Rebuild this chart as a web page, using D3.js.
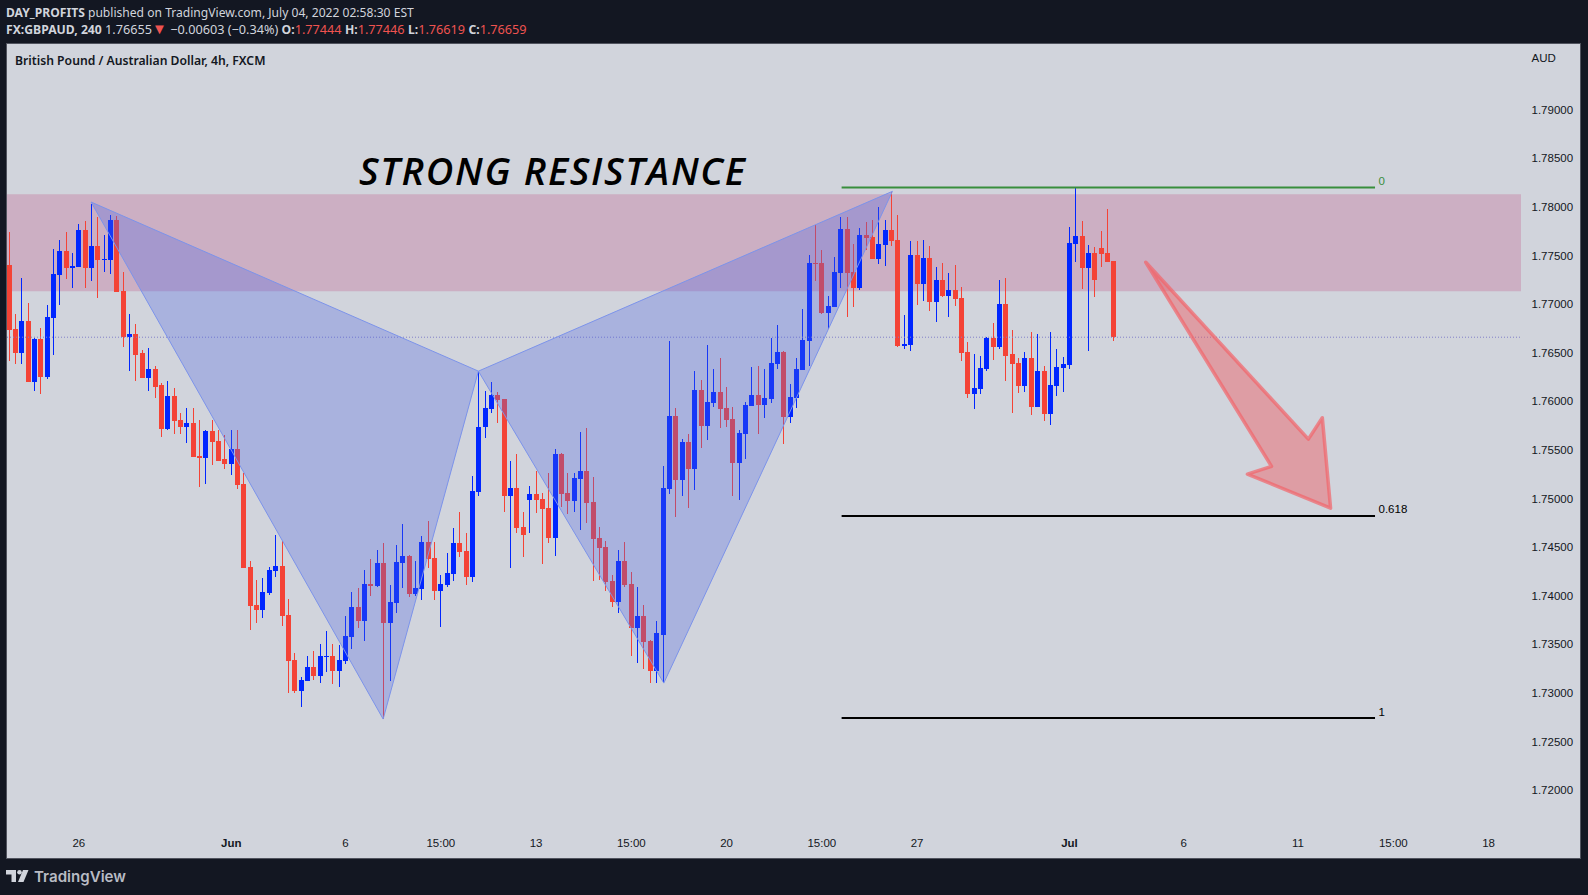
<!DOCTYPE html>
<html>
<head>
<meta charset="utf-8">
<script src="https://cdn.jsdelivr.net/npm/d3@7"></script>
<style>
    html, body { margin: 0; padding: 0; background: #131722; }
    svg { display: block; }
    text { font-family: "Noto Sans", sans-serif; }
    .axis text { font-family: "Liberation Sans", sans-serif; font-size: 11.5px; fill: #131722; }
</style>
</head>
<body>
<svg id="chart" width="1588" height="895"></svg>
<script>
// candles, 4h GBPAUD
const opens = [1.7740,1.7674,1.7650,1.7683,1.7620,1.7664,1.7625,1.7686,1.7730,1.7755,
    1.7737,1.7738,1.7776,1.7737,1.7760,1.7745,1.7745,1.7786,1.7713,1.7666,
    1.7669,1.7650,1.7624,1.7633,1.7617,1.7571,1.7605,1.7581,1.7573,1.7578,
    1.7544,1.7542,1.7569,1.7559,1.7541,1.7535,1.7551,1.7515,1.7429,1.7390,
    1.7385,1.7403,1.7425,1.7431,1.7380,1.7334,1.7302,1.7312,1.7327,1.7317,
    1.7337,1.7338,1.7322,1.7333,1.7357,1.7388,1.7374,1.7412,1.7410,1.7434,
    1.7372,1.7392,1.7434,1.7441,1.7402,1.7407,1.7455,1.7439,1.7405,1.7411,
    1.7422,1.7454,1.7446,1.7419,1.7507,1.7573,1.7592,1.7606,1.7602,1.7502,
    1.7511,1.7471,1.7498,1.7505,1.7499,1.7490,1.7459,1.7546,1.7506,1.7497,
    1.7520,1.7528,1.7496,1.7459,1.7450,1.7415,1.7393,1.7436,1.7412,1.7367,
    1.7379,1.7353,1.7322,1.7360,1.7510,1.7585,1.7519,1.7558,1.7530,1.7612,
    1.7575,1.7598,1.7610,1.7593,1.7582,1.7536,1.7566,1.7595,1.7606,1.7596,
    1.7602,1.7638,1.7651,1.7584,1.7603,1.7632,1.7662,1.7742,1.7742,1.7691,
    1.7697,1.7732,1.7777,1.7733,1.7717,1.7771,1.7769,1.7746,1.7761,1.7776,
    1.7766,1.7657,1.7658,1.7750,1.7721,1.7747,1.7702,1.7725,1.7708,1.7714,
    1.7706,1.7651,1.7607,1.7613,1.7633,1.7665,1.7656,1.7700,1.7649,1.7639,
    1.7616,1.7645,1.7594,1.7631,1.7587,1.7616,1.7634,1.7637,1.7762,1.7770,
    1.7737,1.7753,1.7758,1.7753,1.77444];
const highs = [1.7774,1.7690,1.7727,1.7701,1.7665,1.7675,1.7699,1.7757,1.7766,1.7774,
    1.7753,1.7782,1.7785,1.7803,1.7790,1.7771,1.7792,1.7791,1.7733,1.7690,
    1.7679,1.7653,1.7655,1.7636,1.7619,1.7621,1.7614,1.7588,1.7593,1.7593,
    1.7581,1.7570,1.7581,1.7570,1.7565,1.7570,1.7570,1.7526,1.7436,1.7416,
    1.7418,1.7429,1.7462,1.7456,1.7397,1.7341,1.7316,1.7338,1.7343,1.7350,
    1.7364,1.7350,1.7349,1.7379,1.7404,1.7408,1.7426,1.7438,1.7447,1.7454,
    1.7411,1.7452,1.7474,1.7442,1.7436,1.7461,1.7477,1.7455,1.7421,1.7444,
    1.7470,1.7486,1.7464,1.7523,1.7631,1.7611,1.7620,1.7610,1.7602,1.7539,
    1.7546,1.7486,1.7513,1.7528,1.7506,1.7526,1.7551,1.7547,1.7526,1.7526,
    1.7568,1.7572,1.7522,1.7471,1.7456,1.7421,1.7447,1.7455,1.7424,1.7409,
    1.7390,1.7354,1.7374,1.7533,1.7662,1.7593,1.7561,1.7566,1.7631,1.7622,
    1.7658,1.7633,1.7644,1.7615,1.7594,1.7570,1.7599,1.7635,1.7636,1.7633,
    1.7665,1.7678,1.7652,1.7618,1.7645,1.7695,1.7750,1.7781,1.7756,1.7708,
    1.7748,1.7790,1.7790,1.7762,1.7778,1.7784,1.7786,1.7800,1.7786,1.7815,
    1.7792,1.7689,1.7765,1.7765,1.7766,1.7760,1.7738,1.7742,1.7732,1.7740,
    1.7718,1.7661,1.7649,1.7647,1.7666,1.7681,1.7725,1.7727,1.7673,1.7645,
    1.7651,1.7671,1.7669,1.7636,1.7671,1.7654,1.7646,1.7779,1.7819,1.7785,
    1.7761,1.7759,1.7775,1.7798,1.77446];
const lows = [1.7641,1.7638,1.7638,1.7620,1.7611,1.7607,1.7623,1.7648,1.7699,1.7726,
    1.7717,1.7738,1.7717,1.7724,1.7706,1.7733,1.7731,1.7712,1.7656,1.7631,
    1.7621,1.7624,1.7611,1.7603,1.7563,1.7570,1.7566,1.7566,1.7557,1.7543,
    1.7512,1.7515,1.7534,1.7539,1.7530,1.7524,1.7510,1.7428,1.7365,1.7372,
    1.7377,1.7401,1.7419,1.7369,1.7300,1.7300,1.7285,1.7312,1.7313,1.7310,
    1.7321,1.7309,1.7306,1.7330,1.7345,1.7367,1.7353,1.7400,1.7409,1.7273,
    1.7312,1.7382,1.7408,1.7399,1.7400,1.7396,1.7428,1.7396,1.7368,1.7409,
    1.7415,1.7440,1.7411,1.7414,1.7503,1.7562,1.7588,1.7578,1.7486,1.7428,
    1.7464,1.7440,1.7464,1.7485,1.7433,1.7454,1.7441,1.7491,1.7484,1.7486,
    1.7468,1.7475,1.7415,1.7416,1.7405,1.7388,1.7382,1.7409,1.7338,1.7331,
    1.7325,1.7310,1.7310,1.7310,1.7505,1.7481,1.7503,1.7490,1.7509,1.7552,
    1.7560,1.7594,1.7572,1.7574,1.7503,1.7498,1.7541,1.7595,1.7566,1.7583,
    1.7598,1.7633,1.7556,1.7578,1.7593,1.7632,1.7636,1.7724,1.7690,1.7674,
    1.7697,1.7717,1.7687,1.7697,1.7714,1.7756,1.7746,1.7741,1.7739,1.7760,
    1.7656,1.7654,1.7652,1.7699,1.7703,1.7693,1.7682,1.7707,1.7687,1.7698,
    1.7641,1.7603,1.7592,1.7607,1.7631,1.7642,1.7654,1.7621,1.7588,1.7608,
    1.7610,1.7586,1.7594,1.7580,1.7576,1.7605,1.7610,1.7633,1.7743,1.7715,
    1.7652,1.7707,1.7738,1.7743,1.76619];
const closes = [1.7673,1.7650,1.7683,1.7620,1.7664,1.7625,1.7687,1.7731,1.7755,1.7737,
    1.7739,1.7776,1.7737,1.7760,1.7745,1.7746,1.7786,1.7712,1.7666,1.7669,
    1.7648,1.7624,1.7633,1.7615,1.7571,1.7605,1.7580,1.7573,1.7578,1.7543,
    1.7542,1.7569,1.7558,1.7539,1.7535,1.7551,1.7514,1.7428,1.7389,1.7385,
    1.7404,1.7426,1.7431,1.7379,1.7333,1.7302,1.7313,1.7327,1.7317,1.7338,
    1.7338,1.7322,1.7334,1.7358,1.7388,1.7374,1.7412,1.7410,1.7434,1.7372,
    1.7393,1.7435,1.7441,1.7402,1.7408,1.7455,1.7438,1.7405,1.7412,1.7423,
    1.7454,1.7445,1.7419,1.7508,1.7574,1.7593,1.7606,1.7601,1.7502,1.7511,
    1.7470,1.7462,1.7505,1.7498,1.7489,1.7459,1.7546,1.7505,1.7497,1.7521,
    1.7528,1.7495,1.7458,1.7449,1.7414,1.7393,1.7436,1.7411,1.7367,1.7379,
    1.7352,1.7322,1.7362,1.7511,1.7585,1.7519,1.7558,1.7530,1.7612,1.7575,
    1.7599,1.7610,1.7592,1.7581,1.7536,1.7567,1.7596,1.7606,1.7596,1.7603,
    1.7639,1.7651,1.7584,1.7604,1.7633,1.7663,1.7742,1.7741,1.7691,1.7698,
    1.7733,1.7777,1.7732,1.7717,1.7771,1.7768,1.7746,1.7762,1.7776,1.7765,
    1.7657,1.7659,1.7750,1.7721,1.7747,1.7702,1.7725,1.7708,1.7714,1.7705,
    1.7650,1.7607,1.7614,1.7634,1.7665,1.7656,1.7700,1.7647,1.7638,1.7616,
    1.7645,1.7594,1.7631,1.7587,1.7617,1.7635,1.7638,1.7763,1.7770,1.7737,
    1.7753,1.7725,1.7752,1.7743,1.76659];

// axis ticks
const priceTicks = [1.79,1.785,1.78,1.775,1.77,1.765,1.76,1.755,1.75,1.745,1.74,1.735,1.73,1.725,1.72];
const timeTickIndex = [11,35,53,68,83,98,113,128,143,167,185,203,218,233];
const timeTickLabels = ["26","Jun","6","15:00","13","15:00","20","15:00","27","Jul","6","11","15:00","18"];

// drawings, in bar index / price
const lastClose = 1.76659;
const zonePrices = [1.7813,1.77132];
const patternXAB = [[13,1.7805],[59,1.7273],[74,1.7631]];
const patternBCD = [[74,1.7631],[103.2,1.7310],[139.2,1.7816]];
const fibRange = [131.2,215.2];
const fibLevels = ["0","0.618","1"];
const fibPrices = [1.7820,1.7482,1.7274];
const fibColors = ["#388e3c","#000000","#000000"];
const arrowPoints = [[179.1,1.7743],[204.7,1.7561],[206.9,1.7583],[208.2,1.7490],[195.1,1.7525],[198.9,1.7533]];

let svg = d3.select("#chart");
let pane = {left:7, top:44, right:1581, bottom:859, plotRight:1521};

let xScale = d3.scaleLinear().domain([0,174]).range([8.5,8.5+174*6.35]);
let yScale = d3.scaleLinear().domain([1.72,1.79]).range([790,109.7]);

svg.append("rect").attr("width",1588).attr("height",895).attr("fill","#131722");
svg.append("rect")
    .attr("x",pane.left-0.5).attr("y",pane.top-0.5)
    .attr("width",pane.right-pane.left).attr("height",pane.bottom-pane.top)
    .attr("fill","#d1d4dc").attr("stroke","#50535e");

svg.append("clipPath").attr("id","plotClip").append("rect")
    .attr("x",pane.left).attr("y",pane.top)
    .attr("width",pane.plotRight-pane.left).attr("height",pane.bottom-pane.top-1);
let plot = svg.append("g").attr("clip-path","url(#plotClip)");

// resistance zone sits under the candles
plot.append("rect")
    .attr("x",pane.left).attr("width",pane.plotRight-pane.left)
    .attr("y",yScale(zonePrices[0]))
    .attr("height",yScale(zonePrices[1])-yScale(zonePrices[0]))
    .attr("fill","rgba(193,64,120,0.25)");

// candles
let red = "#f44336", blue = "#0026ff";
let candleColor = (i) => closes[i] >= opens[i] ? blue : red;
let candles = plot.append("g").attr("shape-rendering","crispEdges")
    .selectAll("g").data(d3.range(opens.length)).enter().append("g");
candles.append("rect")
    .attr("x",(i) => Math.round(xScale(i))-0.0)
    .attr("width",1)
    .attr("y",(i) => yScale(highs[i]))
    .attr("height",(i) => yScale(lows[i])-yScale(highs[i]))
    .attr("fill",candleColor);
candles.append("rect")
    .attr("x",(i) => Math.round(xScale(i))-2)
    .attr("width",5)
    .attr("y",(i) => yScale(Math.max(opens[i],closes[i])))
    .attr("height",(i) => Math.max(1,Math.abs(yScale(opens[i])-yScale(closes[i]))))
    .attr("fill",candleColor);

// last price line
plot.append("line")
    .attr("x1",pane.left).attr("x2",pane.plotRight)
    .attr("y1",yScale(lastClose)).attr("y2",yScale(lastClose))
    .attr("stroke","#8080c8").attr("stroke-width",1).attr("stroke-dasharray","1 2");

// harmonic pattern
let polyLine = d3.line().x((d) => xScale(d[0])).y((d) => yScale(d[1]));
[patternXAB,patternBCD].forEach(function(points){
    plot.append("path")
        .attr("d",polyLine(points)+"Z")
        .attr("fill","rgba(75,100,230,0.3)")
        .attr("stroke","#7c93ea").attr("stroke-width",1);
});

// fib levels
fibLevels.forEach(function(level,i){
    plot.append("line")
        .attr("x1",xScale(fibRange[0])).attr("x2",xScale(fibRange[1]))
        .attr("y1",yScale(fibPrices[i])).attr("y2",yScale(fibPrices[i]))
        .attr("stroke",fibColors[i]).attr("stroke-width",2);
    plot.append("text")
        .attr("x",xScale(fibRange[1])+3.5).attr("y",yScale(fibPrices[i])-2.5)
        .attr("font-size",11.5).attr("fill",fibColors[i])
        .style("font-family","'Liberation Sans', sans-serif")
        .text(level);
});

// down arrow
plot.append("path")
    .attr("d",polyLine(arrowPoints)+"Z")
    .attr("fill","rgba(238,90,95,0.45)")
    .attr("stroke","rgba(242,100,105,0.7)")
    .attr("stroke-width",3.5).attr("stroke-linejoin","round");

plot.append("text")
    .attr("x",359).attr("y",185)
    .attr("font-size",38).attr("font-style","italic").attr("font-weight",600)
    .attr("letter-spacing",1.7)
    .style("font-family","'Open Sans', sans-serif")
    .attr("fill","#000").text("STRONG RESISTANCE");

// axes
let yAxis = d3.axisRight(yScale).tickValues(priceTicks).tickSize(0).tickPadding(0)
    .tickFormat(d3.format(".5f"));
let yAxisG = svg.append("g").attr("class","axis").attr("transform","translate(1531.5,0)").call(yAxis);
yAxisG.select(".domain").remove();

let xAxis = d3.axisBottom(xScale).tickValues(timeTickIndex).tickSize(0).tickPadding(0)
    .tickFormat((d,i) => timeTickLabels[i]);
let xAxisG = svg.append("g").attr("class","axis").attr("transform","translate(0,839)").call(xAxis);
xAxisG.select(".domain").remove();
xAxisG.selectAll("text")
    .attr("font-weight",(d,i) => /[A-Z]/.test(timeTickLabels[i]) ? "bold" : null)
    .style("font-weight",(d,i) => /[A-Z]/.test(timeTickLabels[i]) ? "bold" : null);

svg.append("text").attr("class","unit").attr("x",1531.5).attr("y",62)
    .attr("font-size",11.5).style("font-family","'Liberation Sans', sans-serif")
    .attr("fill","#131722").text("AUD");

svg.append("text").attr("x",15).attr("y",65)
    .attr("font-size",12.2).attr("font-weight",600).attr("fill","#131722")
    .text("British Pound / Australian Dollar, 4h, FXCM");

// header
let head1 = svg.append("text").attr("x",6).attr("y",17).attr("font-size",12.1).attr("fill","#d1d4dc");
head1.append("tspan").attr("font-weight",700).text("DAY_PROFITS");
head1.append("tspan").text(" published on TradingView.com, July 04, 2022 02:58:30 EST");

let headRed = "#ef5350";
let head2 = svg.append("text").attr("x",6).attr("y",34).attr("font-size",12.7).attr("fill","#d1d4dc");
head2.append("tspan").attr("font-size",12.2).attr("font-weight",700).text("FX:GBPAUD, 240");
head2.append("tspan").text(" 1.76655");
head2.append("tspan").attr("font-size",15).attr("fill",headRed).text("▼");
head2.append("tspan").text(" −0.00603 (−0.34%) ");
[["O:","1.77444"],["H:","1.77446"],["L:","1.76619"],["C:","1.76659"]].forEach(function(pair){
    head2.append("tspan").attr("font-size",12.2).attr("font-weight",700).text(pair[0]);
    head2.append("tspan").attr("fill",headRed).text(pair[1]+" ");
});

// footer logo
let logo = svg.append("g").attr("fill","#d1d4dc");
logo.append("path").attr("d","M6 870h10v12h-4.5v-7.5H6z");
logo.append("circle").attr("cx",19.5).attr("cy",872.3).attr("r",2.3);
logo.append("path").attr("d","M23 870h5.5l-5 12h-5.5z");
svg.append("text").attr("x",34).attr("y",882)
    .attr("font-size",15.1).attr("font-weight",600)
    .style("font-family","Inter, sans-serif")
    .attr("fill","#b8bbc4").text("TradingView");
</script>
</body>
</html>
